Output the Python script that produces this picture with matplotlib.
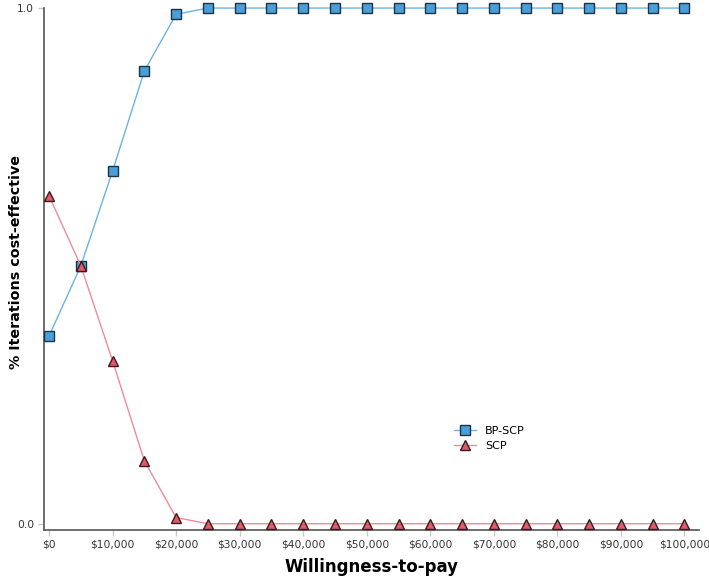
#!/usr/bin/env python3
"""
Cost-effectiveness acceptability curve: BP-SCP vs SCP.
"""

import matplotlib
matplotlib.use("Agg")
import matplotlib.pyplot as plt
from matplotlib.ticker import FuncFormatter

# Willingness-to-pay thresholds ($)
wtp = [0, 5000, 10000, 15000, 20000, 25000, 30000, 35000, 40000, 45000, 50000,
       55000, 60000, 65000, 70000, 75000, 80000, 85000, 90000, 95000, 100000]

# Share of iterations cost-effective
bp_scp = [0.364, 0.500, 0.684, 0.878, 0.988] + [1.0] * 16
scp = [0.636, 0.500, 0.316, 0.122, 0.012] + [0.0] * 16

x_ticks = list(range(0, 100001, 10000))
y_ticks = [0.0, 1.0]

fig = plt.figure(figsize=(7.09, 5.76), dpi=100)
ax = fig.add_axes([0.062, 0.08, 0.924, 0.906])

ax.plot(wtp, bp_scp, color="#6cb4e0", linewidth=1.0, marker="s", markersize=6.5,
        markerfacecolor="#4a9fd8", markeredgecolor="#1c3444", markeredgewidth=1.0,
        label="BP-SCP", clip_on=False, zorder=3)
ax.plot(wtp, scp, color="#f08c98", linewidth=1.0, marker="^", markersize=7.5,
        markerfacecolor="#e05a6a", markeredgecolor="#3a1c20", markeredgewidth=1.0,
        label="SCP", clip_on=False, zorder=3)

ax.set_xlim(-800, 102300)
ax.set_ylim(-0.012, 1.0)
ax.set_xticks(x_ticks)
ax.set_yticks(y_ticks)
ax.xaxis.set_major_formatter(FuncFormatter(lambda v, p: f"${int(v):,}"))
ax.yaxis.set_major_formatter(FuncFormatter(lambda v, p: f"{v:.1f}"))
ax.tick_params(axis="both", labelsize=7.7, colors="#c8c8c8", labelcolor="#333333",
               length=4, width=1, pad=3)

for side in ["top", "right"]:
    ax.spines[side].set_visible(False)
for side in ["left", "bottom"]:
    ax.spines[side].set_color("#555555")
    ax.spines[side].set_linewidth(1.2)

ax.set_xlabel("Willingness-to-pay", fontsize=12, fontweight="bold", labelpad=6)
# y label placed by hand, the tick labels would push it off the canvas
fig.text(16 / 709, 1 - 262 / 576, "% Iterations cost-effective", rotation=90,
         ha="center", va="center", fontsize=10.3, fontweight="bold")

ax.legend(loc="center", bbox_to_anchor=(0.68, 0.175), frameon=False, fontsize=8,
          handlelength=2.0, labelspacing=0.4)

plt.savefig("out.png", dpi=100)
plt.close(fig)
